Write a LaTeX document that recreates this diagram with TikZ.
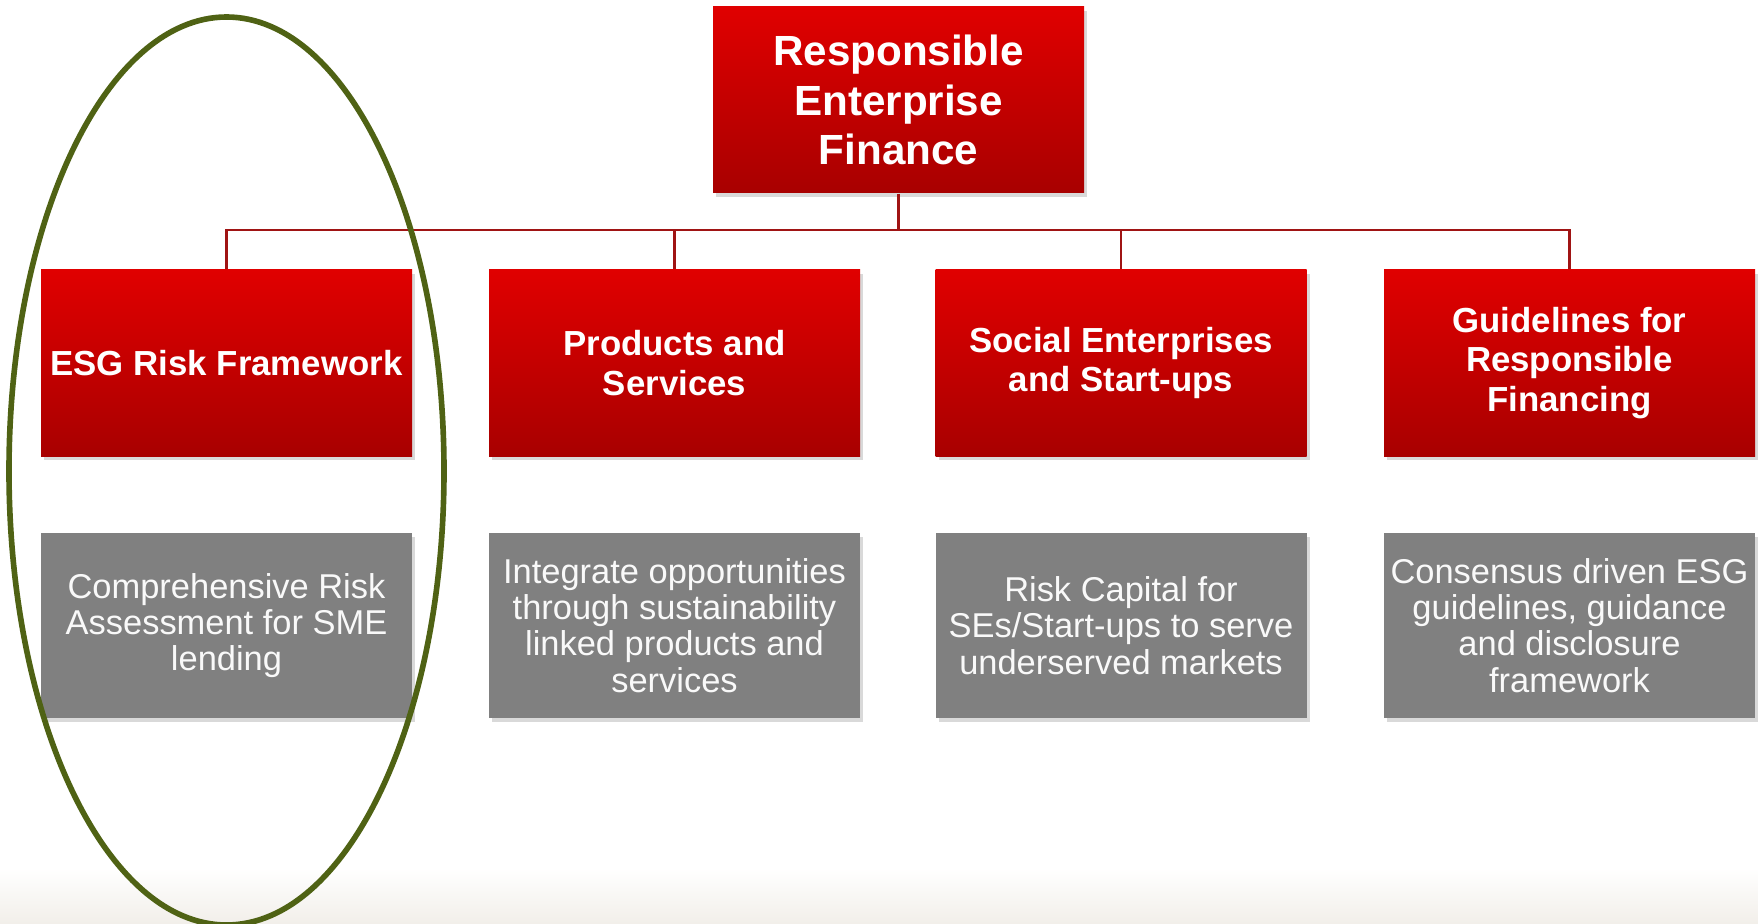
\documentclass[tikz,border=0pt]{standalone}
\usepackage{fontspec}
\setmainfont{Liberation Sans}
\usetikzlibrary{shadows}

\definecolor{redtop}{RGB}{224,0,0}
\definecolor{redbot}{RGB}{168,0,0}
\definecolor{linkred}{RGB}{160,20,20}
\definecolor{boxgray}{RGB}{128,128,128}
\definecolor{ringgreen}{RGB}{79,98,20}
\definecolor{floor}{RGB}{242,239,234}

\tikzset{
  redbox/.style={rectangle, minimum width=3.71cm, minimum height=1.86cm,
    inner sep=0pt, top color=redtop, bottom color=redbot, text=white,
    align=center, font=\bfseries\fontsize{9.9}{11.3}\selectfont,
    drop shadow={opacity=0.3, shadow xshift=0.03cm, shadow yshift=-0.04cm}},
  graybox/.style={rectangle, minimum width=3.71cm, minimum height=1.85cm,
    inner sep=0pt, fill=boxgray, text=white!95!gray, align=center,
    font=\fontsize{9.8}{10.3}\selectfont,
    drop shadow={opacity=0.3, shadow xshift=0.03cm, shadow yshift=-0.04cm}},
  link/.style={draw=linkred, line width=0.8pt}
}

\begin{document}
\begin{tikzpicture}
  \useasboundingbox (0,0) rectangle (17.58,9.23);
  \shade[top color=white, bottom color=floor] (0,0) rectangle (17.58,0.55);

  \node[redbox, font=\bfseries\fontsize{12}{14}\selectfont] (ref) at (8.985,8.23) {Responsible\\Enterprise\\Finance};

  \node[redbox] (esg) at (2.265,5.60) {ESG Risk Framework};
  \node[redbox] (prod) at (6.745,5.60) {Products and\\Services};
  \node[redbox] (soc) at (11.21,5.60) {Social Enterprises\\and Start-ups};
  \node[redbox] (guide) at (15.695,5.60) {Guidelines for\\Responsible\\Financing};

  \node[graybox] (esgtxt) at (2.265,2.975) {Comprehensive Risk\\Assessment for SME\\lending};
  \node[graybox] (prodtxt) at (6.745,2.975) {Integrate opportunities\\through sustainability\\linked products and\\services};
  \node[graybox] (soctxt) at (11.21,2.975) {Risk Capital for\\SEs/Start-ups to serve\\underserved markets};
  \node[graybox] (guidetxt) at (15.695,2.975) {Consensus driven ESG\\guidelines, guidance\\and disclosure\\framework};

  \coordinate (bus) at (8.985,6.93);
  \draw[link] (ref.south) -- (bus);
  \draw[link] (bus) -| (esg.north);
  \draw[link] (bus) -| (prod.north);
  \draw[link] (bus) -| (soc.north);
  \draw[link] (bus) -| (guide.north);

  \draw[ringgreen, line width=1.6pt] (2.265,4.52) ellipse (2.175cm and 4.54cm);
\end{tikzpicture}
\end{document}
